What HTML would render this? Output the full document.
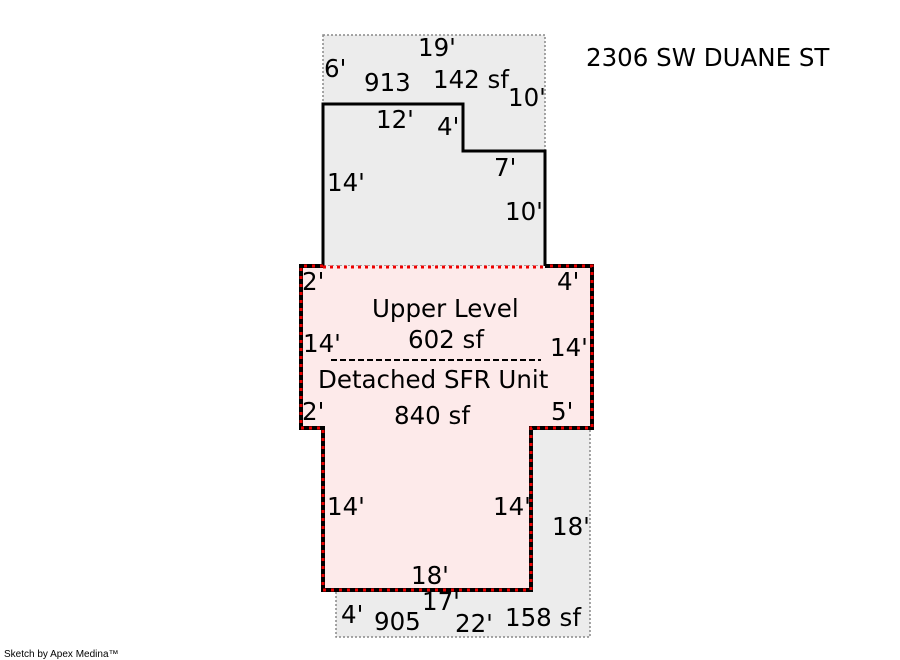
<!DOCTYPE html>
<html><head><style>
html,body{margin:0;padding:0;background:#fff;}
svg{display:block;}
text{font-family:"DejaVu Sans","Liberation Sans",sans-serif;font-size:24.5px;fill:#000;}
</style></head><body>
<svg width="900" height="660" viewBox="0 0 900 660">
<rect x="323" y="35" width="222" height="231" fill="#ececec" stroke="#888" stroke-width="1.5" stroke-dasharray="2,2"/>
<rect x="336" y="428" width="254" height="209" fill="#ececec" stroke="#888" stroke-width="1.5" stroke-dasharray="2,2"/>
<polyline points="323,266 323,104 463,104 463,151 545,151 545,266" fill="none" stroke="#000" stroke-width="3"/>
<polygon points="301,266 592,266 592,428 531,428 531,590 323,590 323,428 301,428" fill="#fdeaea" stroke="none"/>
<polyline points="323,266 301,266 301,428 323,428 323,590 531,590 531,428 592,428 592,266 545,266" fill="none" stroke="#000" stroke-width="4"/>
<polyline points="323,266 301,266 301,428 323,428 323,590 531,590 531,428 592,428 592,266 545,266" fill="none" stroke="#e00" stroke-width="3" stroke-dasharray="3,5"/>
<line x1="323" y1="267" x2="545" y2="267" stroke="#e00" stroke-width="3" stroke-dasharray="3,4"/>
<line x1="331" y1="360" x2="541" y2="360" stroke="#000" stroke-width="2" stroke-dasharray="6,3"/>
<text x="418" y="56">19'</text>
<text x="324" y="77">6'</text>
<text x="364" y="91">913</text>
<text x="433" y="88">142 sf</text>
<text x="508" y="106">10'</text>
<text x="376" y="128">12'</text>
<text x="437" y="135">4'</text>
<text x="494" y="176">7'</text>
<text x="327" y="191">14'</text>
<text x="505" y="220">10'</text>
<text x="586" y="66">2306 SW DUANE ST</text>
<text x="302" y="290">2'</text>
<text x="557" y="290">4'</text>
<text x="372" y="317">Upper Level</text>
<text x="408" y="348">602 sf</text>
<text x="303" y="352">14'</text>
<text x="550" y="356">14'</text>
<text x="318" y="388">Detached SFR Unit</text>
<text x="302" y="420">2'</text>
<text x="394" y="424">840 sf</text>
<text x="551" y="420">5'</text>
<text x="327" y="515">14'</text>
<text x="493" y="515">14'</text>
<text x="552" y="535">18'</text>
<text x="411" y="584">18'</text>
<text x="422" y="610">17'</text>
<text x="341" y="623">4'</text>
<text x="374" y="630">905</text>
<text x="455" y="632">22'</text>
<text x="505" y="626">158 sf</text>
<text x="4" y="657" style="font-family:'Liberation Sans',sans-serif;font-size:10px">Sketch by Apex Medina™</text>
</svg>
</body></html>
